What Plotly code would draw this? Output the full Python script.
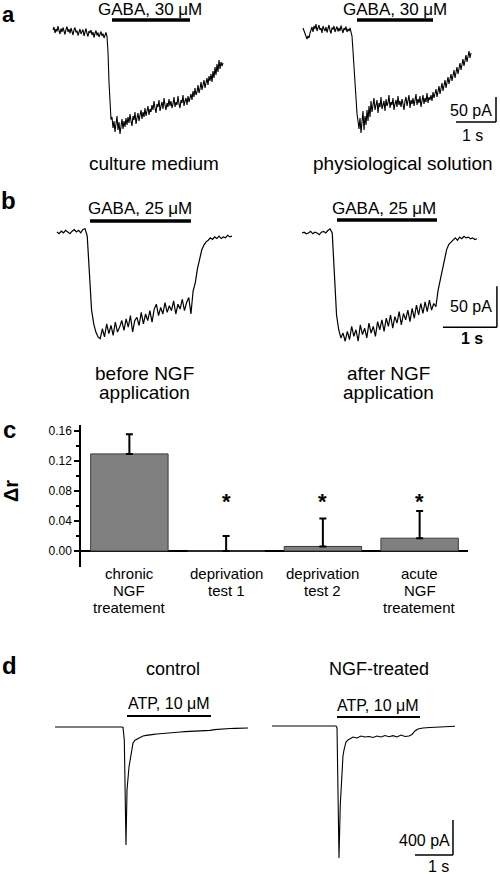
import plotly.graph_objects as go

W, H = 500, 874
FONT = "Liberation Sans, Arial, Helvetica, sans-serif"

# ---------------- data ----------------
# Panel a: GABA 30 uM currents, sampled every 0.025 s (pA)
a_dt = 0.025
a_culture_pA = [4, 10, -2, 6, 1, 12, 3, -4, 7, 0, 9, 2, -5, 5, 11, 0, 6, -3, 8, 1,
                -6, 4, 9, -1, 3, -7, 2, 6, -4, 0, 5, -8, 1, 7, -3, -9, 2, -2, 4, -6,
                0, -11, -3, 3, -7, -1, -10, -4, 1, -8, -3, -12, -5, -1, -9,
                -40, -100, -150, -175,
                -170, -192, -178, -200, -184, -168, -196, -180, -204, -186, -174, -194, -178, -190, -172,
                -186, -170, -182, -164, -178, -188, -168, -176, -160, -184, -172, -162, -178, -166, -156,
                -174, -160, -170, -152, -168, -158, -148, -166, -154,
                -160, -146, -156, -138, -152, -162, -144, -150, -136, -158, -148, -140, -154, -132, -146,
                -156, -142, -150, -134, -148, -138, -152, -144, -130, -150, -140, -146, -128, -144, -152,
                -136, -142, -126, -148, -138, -132, -146, -128, -140, -134,
                -124, -136, -118, -130, -112, -126, -120, -106, -122, -114, -100, -116, -108, -96, -112,
                -102, -92, -106, -88, -98, -84, -100, -78, -92, -70, -86, -64, -80, -56, -74, -60, -68, -62]
a_physio_pA = [6, 0, -6, -12, -16, -10, -14, -4, 2, 8, -2, 10, 4, 14, 0, 8, 12, 2, 6, -4,
               10, 4, 0, 8, -3, 5, 12, 1, -5, 7, 3, 10, -2, 4, 9, -1, 6, 0, 11, 3,
               -4, 6, 2, 9, -2, 4, 0, 6, -3,
               -10, -40, -75, -110, -140, -165, -180,
               -196, -174, -204, -182, -160, -198, -170, -188, -158, -180, -150, -172,
               -140, -162, -146, -134, -158, -150, -138, -164, -144, -152, -132, -156, -146, -140, -160,
               -136, -150, -144, -128, -154, -142, -148, -134, -158, -146, -138, -152, -130, -148, -140,
               -152, -136, -146, -158, -140, -132, -150, -142, -128, -154, -138, -146, -134, -150, -140,
               -126, -148, -136, -144, -130, -152, -138, -128, -146, -134, -142, -124, -144, -132, -138,
               -128, -140, -122, -134, -126, -116, -132, -120, -110, -126, -114, -104, -120, -108, -98,
               -114, -102, -92, -106, -96, -86, -100, -88, -78, -94, -82, -72, -86, -74, -64,
               -78, -66, -56, -70, -58, -48, -62, -50, -40, -54, -44]
a_gaba_culture_s = [1.475, 3.425]
a_gaba_physio_s = [1.35, 3.25]

# Panel b: GABA 25 uM currents, sampled every 0.04 s (pA)
b_dt = 0.04
b_before_pA = [0, -2, 1, -1, 2, 0, -2, 1, 3, 0, 2, -1, 3, 4,
               -5, -50, -95, -112, -122, -128, -130,
               -118, -128, -112, -124, -114, -126, -110, -122, -116, -108,
               -120, -106, -116, -102, -122, -108, -104, -114, -98, -112, -100, -108, -96, -110, -94,
               -88, -102, -92, -100, -86, -98, -90, -96, -84, -100, -88, -94, -82, -96, -86,
               -80, -100, -72, -62, -45, -32, -22, -16, -12,
               -10, -7, -9, -6, -8, -5, -8, -6, -7, -4, -6, -5]
b_after_pA = [0, 1, -1, 0, 2, -1, 1, 0, -2, 1, 2, 0, 3, 5,
              0, -45, -100, -118, -128, -122, -132,
              -120, -130, -114, -126, -118, -132, -112, -124, -116, -128, -110, -122, -114, -126, -108,
              -118, -106, -120, -104, -114, -100, -116, -102, -110, -96, -112, -98, -106, -94, -108,
              -92, -104, -88, -100, -86, -98, -84, -96, -82, -94, -86, -90,
              -70, -58, -45, -32, -20, -14, -11,
              -8, -6, -9, -5, -7, -4, -6, -5, -7, -6, -8, -7]
b_gaba_before_s = [0.611, 2.48]
b_gaba_after_s = [0.648, 2.50]

# Panel c: delta r per condition
c_categories = [["chronic", "NGF", "treatement"],
                ["deprivation", "test 1"],
                ["deprivation", "test 2"],
                ["acute", "NGF", "treatement"]]
c_delta_r = [0.129, 0.0, 0.006, 0.017]
c_sem = [0.026, 0.020, 0.037, 0.036]
c_significant = [False, True, True, True]
c_ticks = [0.00, 0.04, 0.08, 0.12, 0.16]
c_tick_labels = ["0.00", "0.04", "0.08", "0.12", "0.16"]
c_minor_ticks = [0.02, 0.06, 0.10, 0.14]

# Panel d: ATP 10 uM currents (time s, current pA)
d_ctrl_t = [0, 0.4, 0.8, 1.2, 1.5, 1.71, 1.76, 1.79, 1.824, 1.868, 1.895, 1.947, 2.0, 2.053, 2.105,
            2.158, 2.237, 2.316, 2.4, 2.5, 2.6, 2.684, 2.8, 2.895, 3.0, 3.105, 3.2, 3.3, 3.421, 3.55,
            3.68, 3.816, 3.95, 4.079, 4.2, 4.342, 4.47, 4.605, 4.74, 4.868, 4.97, 5.079]
d_ctrl_pA = [0, 2, -1, 1, 0, 8, 0, -5, -150, -1349, -720, -457, -297, -183, -150,
             -137, -114, -103, -95, -86, -84, -80, -77, -72, -71, -69, -60, -57, -52, -50,
             -48, -46, -41, -38, -30, -23, -20, -17, -15, -14, -12, -11]
d_ngf_t = [0, 0.47, 1.0, 1.53, 1.684, 1.711, 1.763, 1.797, 1.834, 1.868, 1.895, 1.947, 2.0, 2.079, 2.132,
           2.237, 2.342, 2.447, 2.553, 2.658, 2.763, 2.868, 2.974, 3.079, 3.184, 3.289, 3.395, 3.5, 3.605,
           3.684, 3.763, 3.842, 3.974, 4.158, 4.421, 4.632, 4.816]
d_ngf_pA = [0, 1, -1, 0, 0, -20, -1509, -900, -537, -343, -274, -183, -160, -137, -126,
            -137, -114, -126, -120, -131, -114, -126, -109, -123, -111, -126, -103, -120, -114,
            -97, -57, -34, -23, -17, -11, -9, -3]
d_atp_ctrl_s = [1.895, 4.105]
d_atp_ngf_s = [1.711, 3.895]

# ---------------- layout helpers ----------------
def xd(p0, p1):
    return [p0 / W, p1 / W]

def yd(top, bot):
    return [1 - bot / H, 1 - top / H]

def px(x):
    return x / W

def py(y):
    return 1 - y / H

def ref(k, a):
    return a if k == 1 else f"{a}{k}"

def name(k, a):
    return f"{a}axis" if k == 1 else f"{a}axis{k}"

# trace panels: (pixel box, data ranges)
panels = {
    1: dict(xp=(45, 245), yp=(10, 140), xr=[-0.2, 4.8], yr=[-216, 44]),
    2: dict(xp=(295, 500), yp=(10, 140), xr=[-0.2, 4.925], yr=[-218, 42]),
    3: dict(xp=(45, 245), yp=(195, 345), xr=[-0.222, 3.481], yr=[-137.8, 45.1]),
    4: dict(xp=(290, 500), yp=(195, 345), xr=[-0.222, 3.667], yr=[-136.6, 46.3]),
    6: dict(xp=(40, 250), yp=(700, 865), xr=[-0.395, 5.132], yr=[-1577, 309]),
    7: dict(xp=(260, 470), yp=(700, 865), xr=[-0.316, 5.211], yr=[-1589, 297]),
}

fig = go.Figure()
layout = dict(width=W, height=H, margin=dict(l=0, r=0, t=0, b=0),
              paper_bgcolor="white", plot_bgcolor="rgba(0,0,0,0)",
              showlegend=False, font=dict(family=FONT, color="black"))

for k, p in panels.items():
    layout[name(k, "x")] = dict(domain=xd(*p["xp"]), range=p["xr"], visible=False,
                                 fixedrange=True, anchor=ref(k, "y"))
    layout[name(k, "y")] = dict(domain=yd(*p["yp"]), range=p["yr"], visible=False,
                                 fixedrange=True, anchor=ref(k, "x"))

def add_trace(k, t, i, width=1.2):
    fig.add_trace(go.Scatter(x=t, y=i, mode="lines", line=dict(color="black", width=width),
                             xaxis=ref(k, "x"), yaxis=ref(k, "y"), hoverinfo="skip"))

add_trace(1, [n * a_dt for n in range(len(a_culture_pA))], a_culture_pA, 1.1)
add_trace(2, [n * a_dt for n in range(len(a_physio_pA))], a_physio_pA, 1.1)
add_trace(3, [n * b_dt for n in range(len(b_before_pA))], b_before_pA, 1.2)
add_trace(4, [n * b_dt for n in range(len(b_after_pA))], b_after_pA, 1.2)
add_trace(6, d_ctrl_t, d_ctrl_pA, 1.1)
add_trace(7, d_ngf_t, d_ngf_pA, 1.1)

shapes = []

def hline(k, x0, x1, y, w):
    shapes.append(dict(type="line", xref=ref(k, "x"), yref=ref(k, "y"), x0=x0, x1=x1, y0=y, y1=y,
                       line=dict(color="black", width=w)))

def vline(k, x, y0, y1, w):
    shapes.append(dict(type="line", xref=ref(k, "x"), yref=ref(k, "y"), x0=x, x1=x, y0=y0, y1=y1,
                       line=dict(color="black", width=w)))

# drug application bars
hline(1, a_gaba_culture_s[0], a_gaba_culture_s[1], 24, 3.5)
hline(2, a_gaba_physio_s[0], a_gaba_physio_s[1], 22, 3.5)
hline(3, b_gaba_before_s[0], b_gaba_before_s[1], 13.4, 3.5)
hline(4, b_gaba_after_s[0], b_gaba_after_s[1], 15.9, 3.5)
hline(6, d_atp_ctrl_s[0], d_atp_ctrl_s[1], 126, 2)
hline(7, d_atp_ngf_s[0], d_atp_ngf_s[1], 103, 2)

# scale bars (1 s horizontal, current vertical), corner at (tc, ic)
def scalebar(k, tc, ic, t_len, i_len):
    hline(k, tc - t_len, tc, ic, 1.5)
    vline(k, tc, ic, ic + i_len, 1.5)

scalebar(2, 4.825, -182, 1.0, 50)
scalebar(4, 3.61, -115, 1.0, 50)
scalebar(7, 4.763, -1474, 1.0, 400)

# ---------------- panel c bar chart ----------------
k = 5
layout[name(k, "x")] = dict(domain=xd(81, 468), range=[-0.5, 3.5], visible=True, showline=False,
                             showticklabels=False, ticks="", showgrid=False, zeroline=False,
                             fixedrange=True, anchor=ref(k, "y"))
layout[name(k, "y")] = dict(domain=yd(425, 567), range=[-0.0213, 0.1674], showline=True,
                             linecolor="black", linewidth=1.5, ticks="outside", ticklen=5,
                             tickwidth=1.5, tickcolor="black", tickvals=c_ticks, ticktext=c_tick_labels,
                             tickfont=dict(family=FONT, size=12, color="black"),
                             showgrid=False, zeroline=True, zerolinecolor="black", zerolinewidth=1.5,
                             minor=dict(tickvals=c_minor_ticks, ticks="outside", ticklen=3,
                                        tickwidth=1.5, tickcolor="black", showgrid=False),
                             fixedrange=True, anchor=ref(k, "x"))
xs = list(range(len(c_delta_r)))
fig.add_trace(go.Bar(x=xs, y=c_delta_r, width=0.8,
                     marker=dict(color="#808080", line=dict(color="#3a3a3a", width=1)),
                     error_y=dict(type="data", symmetric=False, array=c_sem,
                                  arrayminus=[0] * len(c_sem), color="black", thickness=2, width=3.5),
                     xaxis=ref(k, "x"), yaxis=ref(k, "y"), hoverinfo="skip"))

annotations = []

def txt(s, x, y, size, bold=False, angle=0, xanchor="center", xref="paper", yref="paper",
        yanchor="middle"):
    if bold:
        s = f"<b>{s}</b>"
    annotations.append(dict(text=s, x=x, y=y, xref=xref, yref=yref, showarrow=False,
                            xanchor=xanchor, yanchor=yanchor, textangle=angle,
                            font=dict(family=FONT, size=size, color="black")))

for i, sig in enumerate(c_significant):
    if sig:
        txt("*", i, 0.066, 22, bold=True, xref="x5", yref="y5")

for i, lines in enumerate(c_categories):
    for j, line in enumerate(lines):
        annotations.append(dict(text=line, x=i, y=py(573 + 17 * j), xref="x5", yref="paper",
                                showarrow=False, xanchor="center", yanchor="middle",
                                font=dict(family=FONT, size=15, color="black")))

txt("Δr", px(11), py(491), 20, bold=True, angle=-90)

# ---------------- text labels ----------------
txt("a", px(8), py(0), 22, bold=True, yanchor="top")
txt("GABA, 30 μM", px(150), py(9), 17)
txt("GABA, 30 μM", px(395), py(9), 17)
txt("50 pA", px(471), py(110), 16)
txt("1 s", px(472), py(135), 16)
txt("culture medium", px(154), py(163), 19)
txt("physiological solution", px(403), py(163), 19)

txt("b", px(8), py(201), 24, bold=True)
txt("GABA, 25 μM", px(140), py(209), 17)
txt("GABA, 25 μM", px(384), py(209), 17)
txt("50 pA", px(471), py(307), 16)
txt("1 s", px(472), py(338), 16, bold=True)
txt("before NGF", px(144), py(373), 19)
txt("application", px(144), py(392), 19)
txt("after NGF", px(388), py(373), 19)
txt("application", px(388), py(392), 19)

txt("c", px(9), py(429), 24, bold=True)

txt("d", px(9), py(665), 24, bold=True)
txt("control", px(173), py(669), 18)
txt("NGF-treated", px(379), py(669), 18)
txt("ATP, 10 μM", px(169), py(703), 16)
txt("ATP, 10 μM", px(378), py(705), 16)
txt("400 pA", px(424), py(840), 16)
txt("1 s", px(438), py(866), 16)

layout["shapes"] = shapes
layout["annotations"] = annotations
fig.update_layout(**layout)

fig.write_html("out.html", config={"displayModeBar": False},
               post_script="document.body.style.margin='0';document.body.style.overflow='hidden';")
